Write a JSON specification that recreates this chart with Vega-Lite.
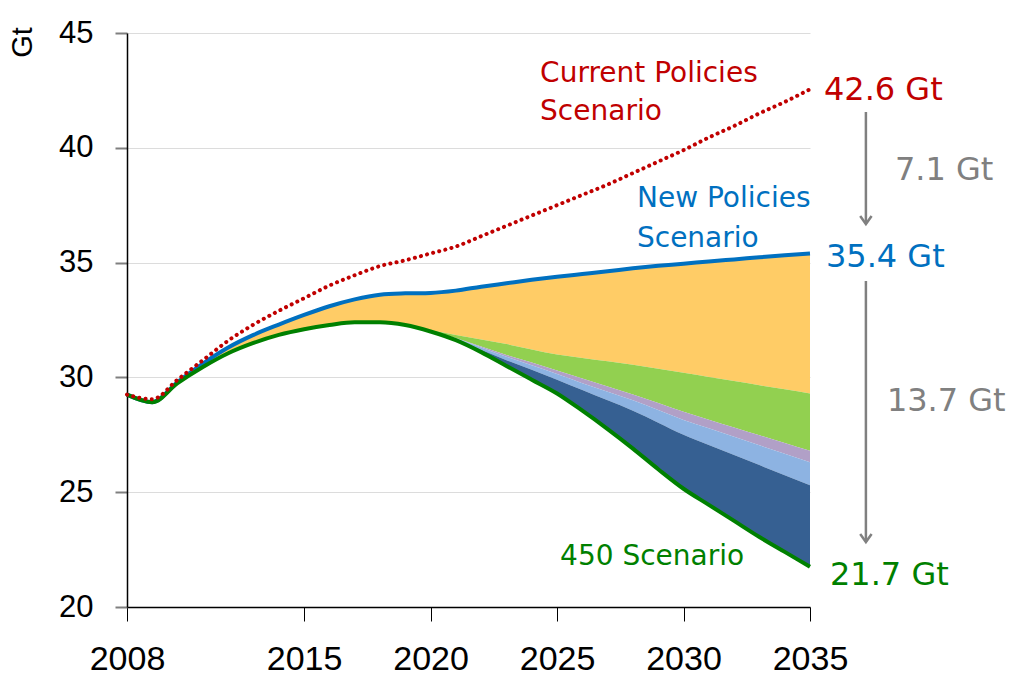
{
  "$schema": "https://vega.github.io/schema/vega-lite/v6.json",
  "width": 683,
  "height": 574,
  "autosize": {"type": "none"},
  "padding": {"left": 127, "top": 33, "right": 203, "bottom": 70},
  "background": "white",
  "config": {"view": {"stroke": null}},
  "datasets": {
    "s": [
      {"year": 2008, "cp": 29.25, "nps": 29.25, "b1": 29.25, "b2": 29.25, "b3": 29.25, "b4": 29.25, "s450": 29.25},
      {"year": 2009, "cp": 29.05, "nps": 28.92, "b1": 28.92, "b2": 28.92, "b3": 28.92, "b4": 28.92, "s450": 28.92},
      {"year": 2010, "cp": 29.9, "nps": 29.8, "b1": 29.75, "b2": 29.75, "b3": 29.75, "b4": 29.75, "s450": 29.75},
      {"year": 2011, "cp": 30.75, "nps": 30.6, "b1": 30.45, "b2": 30.45, "b3": 30.45, "b4": 30.45, "s450": 30.45},
      {"year": 2012, "cp": 31.6, "nps": 31.3, "b1": 31.05, "b2": 31.05, "b3": 31.05, "b4": 31.05, "s450": 31.05},
      {"year": 2013, "cp": 32.3, "nps": 31.85, "b1": 31.5, "b2": 31.5, "b3": 31.5, "b4": 31.5, "s450": 31.5},
      {"year": 2014, "cp": 32.9, "nps": 32.3, "b1": 31.85, "b2": 31.85, "b3": 31.85, "b4": 31.85, "s450": 31.85},
      {"year": 2015, "cp": 33.45, "nps": 32.72, "b1": 32.1, "b2": 32.1, "b3": 32.1, "b4": 32.1, "s450": 32.1},
      {"year": 2016, "cp": 34.0, "nps": 33.1, "b1": 32.28, "b2": 32.28, "b3": 32.28, "b4": 32.28, "s450": 32.28},
      {"year": 2017, "cp": 34.45, "nps": 33.4, "b1": 32.4, "b2": 32.4, "b3": 32.4, "b4": 32.4, "s450": 32.4},
      {"year": 2018, "cp": 34.85, "nps": 33.6, "b1": 32.4, "b2": 32.4, "b3": 32.4, "b4": 32.4, "s450": 32.4},
      {"year": 2019, "cp": 35.1, "nps": 33.66, "b1": 32.28, "b2": 32.28, "b3": 32.28, "b4": 32.28, "s450": 32.28},
      {"year": 2020, "cp": 35.4, "nps": 33.68, "b1": 32.05, "b2": 32.02, "b3": 32.01, "b4": 32.0, "s450": 32.0},
      {"year": 2021, "cp": 35.7, "nps": 33.78, "b1": 31.85, "b2": 31.72, "b3": 31.7, "b4": 31.66, "s450": 31.62},
      {"year": 2022, "cp": 36.15, "nps": 33.95, "b1": 31.65, "b2": 31.35, "b3": 31.3, "b4": 31.2, "s450": 31.1},
      {"year": 2023, "cp": 36.6, "nps": 34.1, "b1": 31.45, "b2": 30.98, "b3": 30.9, "b4": 30.75, "s450": 30.5},
      {"year": 2024, "cp": 37.05, "nps": 34.25, "b1": 31.22, "b2": 30.65, "b3": 30.53, "b4": 30.33, "s450": 29.9},
      {"year": 2025, "cp": 37.5, "nps": 34.38, "b1": 31.0, "b2": 30.3, "b3": 30.15, "b4": 29.9, "s450": 29.3},
      {"year": 2026, "cp": 37.95, "nps": 34.5, "b1": 30.85, "b2": 29.95, "b3": 29.75, "b4": 29.45, "s450": 28.55},
      {"year": 2027, "cp": 38.4, "nps": 34.62, "b1": 30.7, "b2": 29.6, "b3": 29.38, "b4": 29.0, "s450": 27.75},
      {"year": 2028, "cp": 38.9, "nps": 34.75, "b1": 30.55, "b2": 29.25, "b3": 29.0, "b4": 28.55, "s450": 26.9},
      {"year": 2029, "cp": 39.4, "nps": 34.86, "b1": 30.38, "b2": 28.88, "b3": 28.58, "b4": 28.03, "s450": 26.0},
      {"year": 2030, "cp": 39.9, "nps": 34.95, "b1": 30.2, "b2": 28.5, "b3": 28.15, "b4": 27.5, "s450": 25.15},
      {"year": 2031, "cp": 40.45, "nps": 35.05, "b1": 30.02, "b2": 28.16, "b3": 27.78, "b4": 27.06, "s450": 24.45},
      {"year": 2032, "cp": 40.95, "nps": 35.14, "b1": 29.84, "b2": 27.82, "b3": 27.41, "b4": 26.62, "s450": 23.75},
      {"year": 2033, "cp": 41.5, "nps": 35.23, "b1": 29.66, "b2": 27.48, "b3": 27.04, "b4": 26.18, "s450": 23.05},
      {"year": 2034, "cp": 42.0, "nps": 35.32, "b1": 29.48, "b2": 27.14, "b3": 26.67, "b4": 25.74, "s450": 22.4},
      {"year": 2035, "cp": 42.55, "nps": 35.4, "b1": 29.3, "b2": 26.8, "b3": 26.3, "b4": 25.3, "s450": 21.75}
    ],
    "a": [
      {"x": 2024.33, "y": 42.87, "t": "Current Policies", "series": "cp", "kind": "name"},
      {"x": 2024.33, "y": 41.21, "t": "Scenario", "series": "cp", "kind": "name"},
      {"x": 2028.16, "y": 37.42, "t": "New Policies", "series": "nps", "kind": "name"},
      {"x": 2028.16, "y": 35.68, "t": "Scenario", "series": "nps", "kind": "name"},
      {"x": 2025.12, "y": 21.83, "t": "450 Scenario", "series": "s450", "kind": "name"},
      {"x": 2035.55, "y": 42.08, "t": "42.6 Gt", "series": "cp", "kind": "value"},
      {"x": 2035.63, "y": 34.81, "t": "35.4 Gt", "series": "nps", "kind": "value"},
      {"x": 2035.79, "y": 20.96, "t": "21.7 Gt", "series": "s450", "kind": "value"},
      {"x": 2038.36, "y": 38.6, "t": "7.1 Gt", "series": "gap", "kind": "value"},
      {"x": 2038.04, "y": 28.54, "t": "13.7 Gt", "series": "gap", "kind": "value"}
    ],
    "arr": [
      {"x": 2037.21, "y": 41.56, "y2": 36.68},
      {"x": 2037.21, "y": 34.2, "y2": 22.83}
    ]
  },
  "layer": [
    {
      "data": {"name": "s"},
      "mark": {"type": "area", "interpolate": "monotone", "color": "#FFCC66"},
      "encoding": {
        "x": {"field": "year", "type": "quantitative", "scale": {"domain": [2008, 2035], "nice": false, "zero": false}, "title": null,
          "axis": {"values": [2008, 2015, 2020, 2025, 2030, 2035], "format": "d", "labelFont": "Liberation Sans", "labelFontSize": 34, "labelColor": "black", "labelPadding": 21, "tickSize": 14, "tickColor": "black", "tickWidth": 1, "domainColor": "black", "domainWidth": 1.5, "grid": false, "labelFlush": false, "labelOverlap": false}},
        "y": {"field": "nps", "type": "quantitative", "scale": {"domain": [20, 45], "nice": false, "zero": false}, "title": "Gt",
          "axis": {"values": [20, 25, 30, 35, 40, 45], "labelFont": "Liberation Sans", "labelFontSize": 31, "labelColor": "black", "labelPadding": 22, "tickSize": 12, "tickColor": "#7f7f7f", "tickWidth": 2, "domainColor": "black", "domainWidth": 1.5, "grid": true, "gridColor": "#dcdcdc", "gridWidth": 1, "labelFlush": false, "titleFont": "Liberation Sans", "titleFontSize": 29, "titleFontWeight": "normal", "titleColor": "black", "titleAngle": -90, "titleAlign": "center", "titleBaseline": "middle", "titleX": -105, "titleY": 9}},
        "y2": {"field": "b1"}
      }
    },
    {
      "data": {"name": "s"},
      "mark": {"type": "area", "interpolate": "monotone", "color": "#92D050"},
      "encoding": {
        "x": {"field": "year", "type": "quantitative", "title": null},
        "y": {"field": "b1", "type": "quantitative", "title": "Gt"},
        "y2": {"field": "b2"}
      }
    },
    {
      "data": {"name": "s"},
      "mark": {"type": "area", "interpolate": "monotone", "color": "#B1A0C7"},
      "encoding": {
        "x": {"field": "year", "type": "quantitative", "title": null},
        "y": {"field": "b2", "type": "quantitative", "title": "Gt"},
        "y2": {"field": "b3"}
      }
    },
    {
      "data": {"name": "s"},
      "mark": {"type": "area", "interpolate": "monotone", "color": "#8DB3E2"},
      "encoding": {
        "x": {"field": "year", "type": "quantitative", "title": null},
        "y": {"field": "b3", "type": "quantitative", "title": "Gt"},
        "y2": {"field": "b4"}
      }
    },
    {
      "data": {"name": "s"},
      "mark": {"type": "area", "interpolate": "monotone", "color": "#366092"},
      "encoding": {
        "x": {"field": "year", "type": "quantitative", "title": null},
        "y": {"field": "b4", "type": "quantitative", "title": "Gt"},
        "y2": {"field": "s450"}
      }
    },
    {
      "data": {"name": "s"},
      "mark": {"type": "line", "interpolate": "monotone", "color": "#0070C0", "strokeWidth": 4},
      "encoding": {
        "x": {"field": "year", "type": "quantitative", "title": null},
        "y": {"field": "nps", "type": "quantitative", "title": "Gt"}
      }
    },
    {
      "data": {"name": "s"},
      "mark": {"type": "line", "interpolate": "monotone", "color": "#008000", "strokeWidth": 4},
      "encoding": {
        "x": {"field": "year", "type": "quantitative", "title": null},
        "y": {"field": "s450", "type": "quantitative", "title": "Gt"}
      }
    },
    {
      "data": {"name": "s"},
      "mark": {"type": "line", "interpolate": "monotone", "color": "#C00000", "strokeWidth": 4, "strokeDash": [0.1, 6.2], "strokeCap": "round"},
      "encoding": {
        "x": {"field": "year", "type": "quantitative", "title": null},
        "y": {"field": "cp", "type": "quantitative", "title": "Gt"}
      }
    },
    {
      "data": {"name": "arr"},
      "mark": {"type": "rule", "color": "#808080", "strokeWidth": 2.5},
      "encoding": {
        "x": {"field": "x", "type": "quantitative", "title": null},
        "y": {"field": "y", "type": "quantitative", "title": "Gt"},
        "y2": {"field": "y2"}
      }
    },
    {
      "data": {"name": "arr"},
      "mark": {"type": "point", "shape": "M-1,-1.4L0,0L1,-1.4", "filled": false, "size": 130, "stroke": "#808080", "strokeWidth": 2.5, "opacity": 1},
      "encoding": {
        "x": {"field": "x", "type": "quantitative", "title": null},
        "y": {"field": "y2", "type": "quantitative", "title": "Gt"}
      }
    },
    {
      "data": {"name": "a"},
      "transform": [{"filter": "datum.kind == 'name'"}],
      "mark": {"type": "text", "align": "left", "baseline": "alphabetic", "font": "DejaVu Sans", "fontSize": 28},
      "encoding": {
        "x": {"field": "x", "type": "quantitative", "title": null},
        "y": {"field": "y", "type": "quantitative", "title": "Gt"},
        "text": {"field": "t"},
        "color": {"field": "series", "type": "nominal", "legend": null, "scale": {"domain": ["cp", "nps", "s450", "gap"], "range": ["#C00000", "#0070C0", "#008000", "#808080"]}}
      }
    },
    {
      "data": {"name": "a"},
      "transform": [{"filter": "datum.kind == 'value'"}],
      "mark": {"type": "text", "align": "left", "baseline": "alphabetic", "font": "DejaVu Sans", "fontSize": 32},
      "encoding": {
        "x": {"field": "x", "type": "quantitative", "title": null},
        "y": {"field": "y", "type": "quantitative", "title": "Gt"},
        "text": {"field": "t"},
        "color": {"field": "series", "type": "nominal", "legend": null, "scale": {"domain": ["cp", "nps", "s450", "gap"], "range": ["#C00000", "#0070C0", "#008000", "#808080"]}}
      }
    }
  ]
}
